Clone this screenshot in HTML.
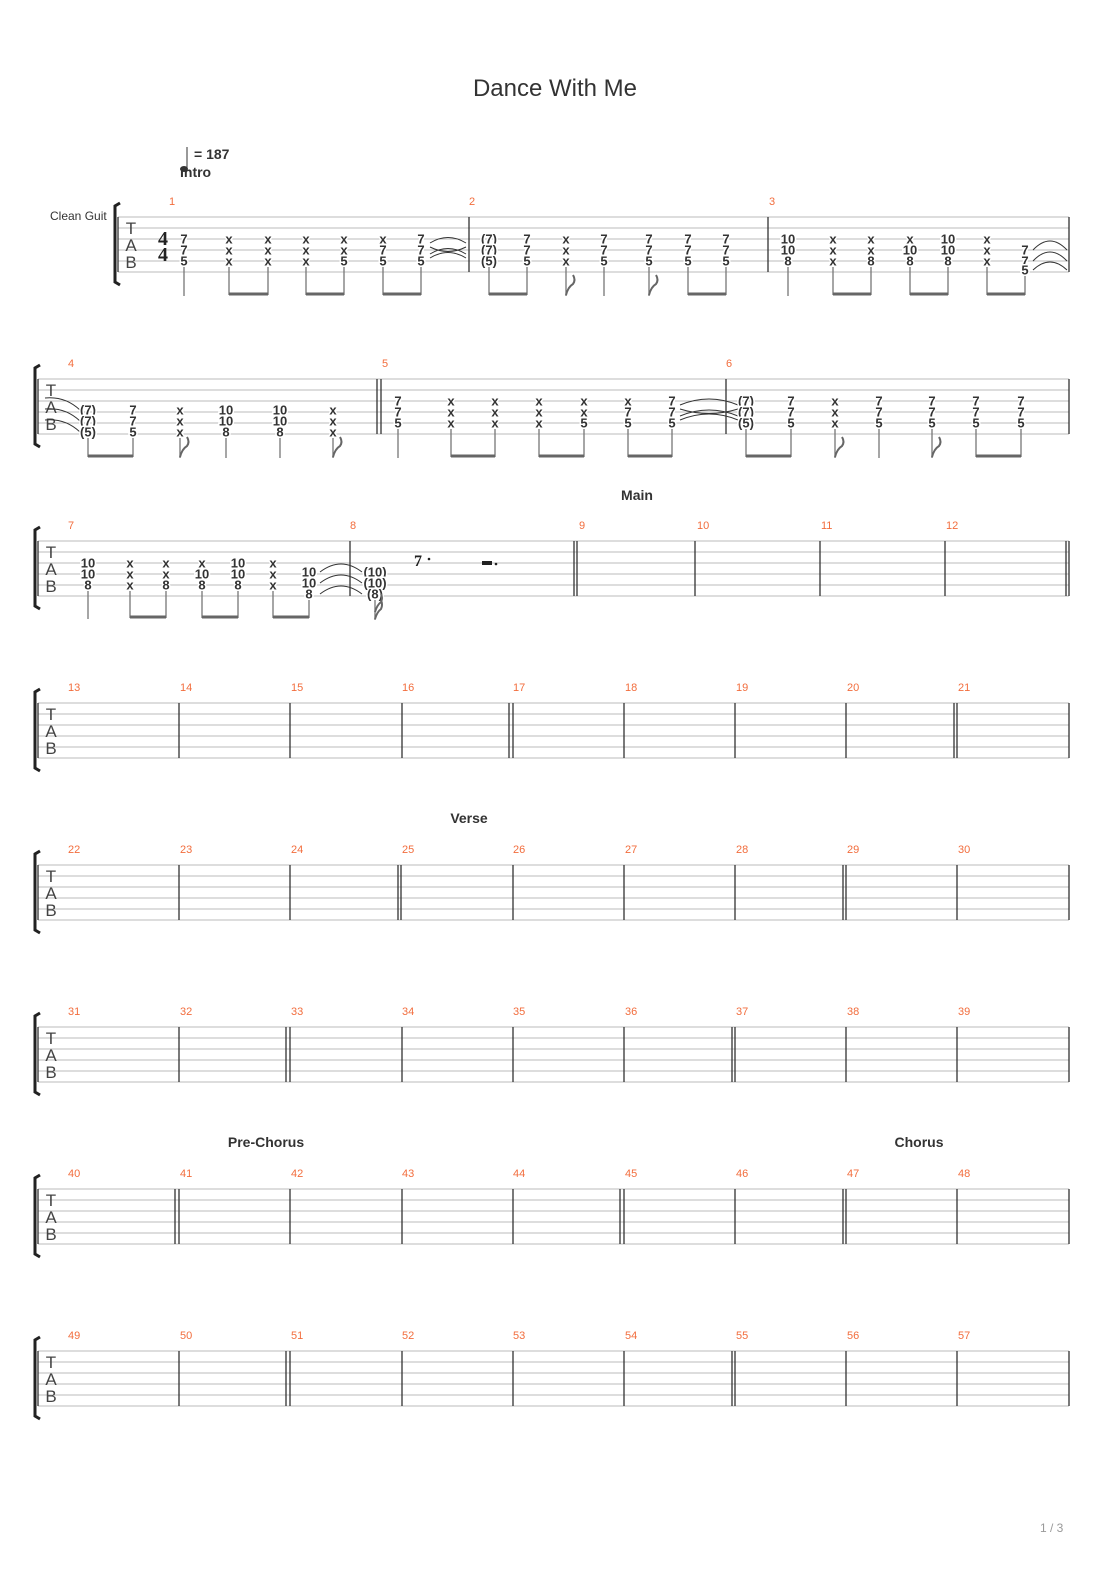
<!DOCTYPE html>
<html><head><meta charset="utf-8"><style>
html,body{margin:0;padding:0;background:#fff;}
svg{display:block}
.n{font:bold 13px "Liberation Sans",sans-serif;text-anchor:middle;dominant-baseline:central;paint-order:stroke;stroke:#fff;stroke-width:3px;fill:#333}
.m{font:11px "Liberation Sans",sans-serif;fill:#f26d3d}
.tab{font:17px "Liberation Sans",sans-serif;fill:#444;text-anchor:middle}
.lb{font:bold 14px "Liberation Sans",sans-serif;fill:#333;text-anchor:middle}
.st line{stroke:#bbb;stroke-width:1}
.bl{stroke:#333;stroke-width:1.3}
.stem{stroke:#777;stroke-width:1.3}
.beam{stroke:#666;stroke-width:3}
.tie{fill:none;stroke:#333;stroke-width:1}
.flag{fill:none;stroke:#666;stroke-width:2}
</style></head><body>
<svg width="1110" height="1570" viewBox="0 0 1110 1570" xmlns="http://www.w3.org/2000/svg">
<text x="555" y="96" text-anchor="middle" style="font:24px 'Liberation Sans',sans-serif;fill:#333">Dance With Me</text>
<line x1="187" y1="147" x2="187" y2="170" stroke="#333" stroke-width="1"/>
<ellipse cx="184" cy="169" rx="4" ry="3" fill="#333"/>
<text x="194" y="159" style="font:bold 14px 'Liberation Sans',sans-serif;fill:#333">= 187</text>
<text x="180" y="177" style="font:bold 14px 'Liberation Sans',sans-serif;fill:#333">Intro</text>
<text x="50" y="220" style="font:12px 'Liberation Sans',sans-serif;fill:#333">Clean Guit</text>
<text x="1040" y="1532" style="font:12px 'Liberation Sans',sans-serif;fill:#999">1 / 3</text>

<!-- System 1 -->
<g class="st"><line x1="118" y1="217" x2="1069" y2="217"/><line x1="118" y1="228" x2="1069" y2="228"/><line x1="118" y1="239" x2="1069" y2="239"/><line x1="118" y1="250" x2="1069" y2="250"/><line x1="118" y1="261" x2="1069" y2="261"/><line x1="118" y1="272" x2="1069" y2="272"/></g>
<path d="M120 203 L115 206 L115 282 L120 285" fill="none" stroke="#222" stroke-width="3"/>
<line class="bl" x1="118" y1="217" x2="118" y2="272"/><line class="bl" x1="469" y1="217" x2="469" y2="272"/><line class="bl" x1="768" y1="217" x2="768" y2="272"/><line class="bl" x1="1069" y1="217" x2="1069" y2="272"/>
<text class="tab" x="131" y="234">T</text><text class="tab" x="131" y="251">A</text><text class="tab" x="131" y="268">B</text>
<text x="163" y="245" text-anchor="middle" style="font:bold 20px 'Liberation Serif',serif;fill:#222">4</text>
<text x="163" y="261" text-anchor="middle" style="font:bold 20px 'Liberation Serif',serif;fill:#222">4</text>
<text class="m" x="169" y="205">1</text><text class="m" x="469" y="205">2</text><text class="m" x="769" y="205">3</text>
<g>
<text class="n" x="184" y="239">7</text><text class="n" x="184" y="250">7</text><text class="n" x="184" y="261">5</text>
<text class="n" x="229" y="239">x</text><text class="n" x="229" y="250">x</text><text class="n" x="229" y="261">x</text>
<text class="n" x="268" y="239">x</text><text class="n" x="268" y="250">x</text><text class="n" x="268" y="261">x</text>
<text class="n" x="306" y="239">x</text><text class="n" x="306" y="250">x</text><text class="n" x="306" y="261">x</text>
<text class="n" x="344" y="239">x</text><text class="n" x="344" y="250">x</text><text class="n" x="344" y="261">5</text>
<text class="n" x="383" y="239">x</text><text class="n" x="383" y="250">7</text><text class="n" x="383" y="261">5</text>
<text class="n" x="421" y="239">7</text><text class="n" x="421" y="250">7</text><text class="n" x="421" y="261">5</text>
<path class="tie" d="M430 243 Q448 232 466 243 M430 254 Q448 243 466 254 M430 258 Q448 247 466 258 M430 247 Q448 256 466 247"/>
<text class="n" x="489" y="239">(7)</text><text class="n" x="489" y="250">(7)</text><text class="n" x="489" y="261">(5)</text>
<text class="n" x="527" y="239">7</text><text class="n" x="527" y="250">7</text><text class="n" x="527" y="261">5</text>
<text class="n" x="566" y="239">x</text><text class="n" x="566" y="250">x</text><text class="n" x="566" y="261">x</text>
<text class="n" x="604" y="239">7</text><text class="n" x="604" y="250">7</text><text class="n" x="604" y="261">5</text>
<text class="n" x="649" y="239">7</text><text class="n" x="649" y="250">7</text><text class="n" x="649" y="261">5</text>
<text class="n" x="688" y="239">7</text><text class="n" x="688" y="250">7</text><text class="n" x="688" y="261">5</text>
<text class="n" x="726" y="239">7</text><text class="n" x="726" y="250">7</text><text class="n" x="726" y="261">5</text>
<text class="n" x="788" y="239">10</text><text class="n" x="788" y="250">10</text><text class="n" x="788" y="261">8</text>
<text class="n" x="833" y="239">x</text><text class="n" x="833" y="250">x</text><text class="n" x="833" y="261">x</text>
<text class="n" x="871" y="239">x</text><text class="n" x="871" y="250">x</text><text class="n" x="871" y="261">8</text>
<text class="n" x="910" y="239">x</text><text class="n" x="910" y="250">10</text><text class="n" x="910" y="261">8</text>
<text class="n" x="948" y="239">10</text><text class="n" x="948" y="250">10</text><text class="n" x="948" y="261">8</text>
<text class="n" x="987" y="239">x</text><text class="n" x="987" y="250">x</text><text class="n" x="987" y="261">x</text>
<text class="n" x="1025" y="250">7</text><text class="n" x="1025" y="261">7</text><text class="n" x="1025" y="270">5</text>
<path class="tie" d="M1033 250 Q1050 232 1067 250 M1033 261 Q1050 243 1067 261 M1033 270 Q1050 254 1067 270"/>
</g>
<g>
<line class="stem" x1="184" y1="267" x2="184" y2="296"/>
<line class="stem" x1="229" y1="267" x2="229" y2="295"/><line class="stem" x1="268" y1="267" x2="268" y2="295"/><line class="beam" x1="229" y1="294" x2="268" y2="294"/>
<line class="stem" x1="306" y1="267" x2="306" y2="295"/><line class="stem" x1="344" y1="267" x2="344" y2="295"/><line class="beam" x1="306" y1="294" x2="344" y2="294"/>
<line class="stem" x1="383" y1="267" x2="383" y2="295"/><line class="stem" x1="421" y1="267" x2="421" y2="295"/><line class="beam" x1="383" y1="294" x2="421" y2="294"/>
<line class="stem" x1="489" y1="267" x2="489" y2="295"/><line class="stem" x1="527" y1="267" x2="527" y2="295"/><line class="beam" x1="489" y1="294" x2="527" y2="294"/>
<line class="stem" x1="566" y1="267" x2="566" y2="296"/><path class="flag" d="M566 295 Q568 287 573 284 Q576 280 573 275"/>
<line class="stem" x1="604" y1="267" x2="604" y2="296"/>
<line class="stem" x1="649" y1="267" x2="649" y2="296"/><path class="flag" d="M649 295 Q651 287 656 284 Q659 280 656 275"/>
<line class="stem" x1="688" y1="267" x2="688" y2="295"/><line class="stem" x1="726" y1="267" x2="726" y2="295"/><line class="beam" x1="688" y1="294" x2="726" y2="294"/>
<line class="stem" x1="788" y1="267" x2="788" y2="296"/>
<line class="stem" x1="833" y1="267" x2="833" y2="295"/><line class="stem" x1="871" y1="267" x2="871" y2="295"/><line class="beam" x1="833" y1="294" x2="871" y2="294"/>
<line class="stem" x1="910" y1="267" x2="910" y2="295"/><line class="stem" x1="948" y1="267" x2="948" y2="295"/><line class="beam" x1="910" y1="294" x2="948" y2="294"/>
<line class="stem" x1="987" y1="267" x2="987" y2="295"/><line class="stem" x1="1025" y1="276" x2="1025" y2="295"/><line class="beam" x1="987" y1="294" x2="1025" y2="294"/>
</g>

<!-- System 2 -->
<g class="st"><line x1="38" y1="379" x2="1069" y2="379"/><line x1="38" y1="390" x2="1069" y2="390"/><line x1="38" y1="401" x2="1069" y2="401"/><line x1="38" y1="412" x2="1069" y2="412"/><line x1="38" y1="423" x2="1069" y2="423"/><line x1="38" y1="434" x2="1069" y2="434"/></g>
<path d="M40 365 L35 368 L35 444 L40 447" fill="none" stroke="#222" stroke-width="3"/>
<line class="bl" x1="38" y1="379" x2="38" y2="434"/><line class="bl" x1="377" y1="379" x2="377" y2="434"/><line class="bl" x1="381" y1="379" x2="381" y2="434"/><line class="bl" x1="726" y1="379" x2="726" y2="434"/><line class="bl" x1="1069" y1="379" x2="1069" y2="434"/>
<text class="tab" x="51" y="396">T</text><text class="tab" x="51" y="413">A</text><text class="tab" x="51" y="430">B</text>
<text class="m" x="68" y="367">4</text><text class="m" x="382" y="367">5</text><text class="m" x="726" y="367">6</text>
<path class="tie" d="M45 398 Q65 396 80 410 M45 409 Q65 407 80 421 M45 420 Q65 418 80 432"/>
<text class="n" x="88" y="410">(7)</text><text class="n" x="88" y="421">(7)</text><text class="n" x="88" y="432">(5)</text>
<text class="n" x="133" y="410">7</text><text class="n" x="133" y="421">7</text><text class="n" x="133" y="432">5</text>
<text class="n" x="180" y="410">x</text><text class="n" x="180" y="421">x</text><text class="n" x="180" y="432">x</text>
<text class="n" x="226" y="410">10</text><text class="n" x="226" y="421">10</text><text class="n" x="226" y="432">8</text>
<text class="n" x="280" y="410">10</text><text class="n" x="280" y="421">10</text><text class="n" x="280" y="432">8</text>
<text class="n" x="333" y="410">x</text><text class="n" x="333" y="421">x</text><text class="n" x="333" y="432">x</text>
<text class="n" x="398" y="401">7</text><text class="n" x="398" y="412">7</text><text class="n" x="398" y="423">5</text>
<text class="n" x="451" y="401">x</text><text class="n" x="451" y="412">x</text><text class="n" x="451" y="423">x</text>
<text class="n" x="495" y="401">x</text><text class="n" x="495" y="412">x</text><text class="n" x="495" y="423">x</text>
<text class="n" x="539" y="401">x</text><text class="n" x="539" y="412">x</text><text class="n" x="539" y="423">x</text>
<text class="n" x="584" y="401">x</text><text class="n" x="584" y="412">x</text><text class="n" x="584" y="423">5</text>
<text class="n" x="628" y="401">x</text><text class="n" x="628" y="412">7</text><text class="n" x="628" y="423">5</text>
<text class="n" x="672" y="401">7</text><text class="n" x="672" y="412">7</text><text class="n" x="672" y="423">5</text>
<path class="tie" d="M680 405 Q709 393 738 405 M680 416 Q709 404 738 416 M680 420 Q709 408 738 420 M680 409 Q709 418 738 409"/>
<text class="n" x="746" y="401">(7)</text><text class="n" x="746" y="412">(7)</text><text class="n" x="746" y="423">(5)</text>
<text class="n" x="791" y="401">7</text><text class="n" x="791" y="412">7</text><text class="n" x="791" y="423">5</text>
<text class="n" x="835" y="401">x</text><text class="n" x="835" y="412">x</text><text class="n" x="835" y="423">x</text>
<text class="n" x="879" y="401">7</text><text class="n" x="879" y="412">7</text><text class="n" x="879" y="423">5</text>
<text class="n" x="932" y="401">7</text><text class="n" x="932" y="412">7</text><text class="n" x="932" y="423">5</text>
<text class="n" x="976" y="401">7</text><text class="n" x="976" y="412">7</text><text class="n" x="976" y="423">5</text>
<text class="n" x="1021" y="401">7</text><text class="n" x="1021" y="412">7</text><text class="n" x="1021" y="423">5</text>
<g>
<line class="stem" x1="88" y1="438" x2="88" y2="457"/><line class="stem" x1="133" y1="438" x2="133" y2="457"/><line class="beam" x1="88" y1="456" x2="133" y2="456"/>
<line class="stem" x1="180" y1="438" x2="180" y2="458"/><path class="flag" d="M180 457 Q182 449 187 446 Q190 442 187 437"/>
<line class="stem" x1="226" y1="438" x2="226" y2="458"/>
<line class="stem" x1="280" y1="438" x2="280" y2="458"/>
<line class="stem" x1="333" y1="438" x2="333" y2="458"/><path class="flag" d="M333 457 Q335 449 340 446 Q343 442 340 437"/>
<line class="stem" x1="398" y1="429" x2="398" y2="458"/>
<line class="stem" x1="451" y1="429" x2="451" y2="457"/><line class="stem" x1="495" y1="429" x2="495" y2="457"/><line class="beam" x1="451" y1="456" x2="495" y2="456"/>
<line class="stem" x1="539" y1="429" x2="539" y2="457"/><line class="stem" x1="584" y1="429" x2="584" y2="457"/><line class="beam" x1="539" y1="456" x2="584" y2="456"/>
<line class="stem" x1="628" y1="429" x2="628" y2="457"/><line class="stem" x1="672" y1="429" x2="672" y2="457"/><line class="beam" x1="628" y1="456" x2="672" y2="456"/>
<line class="stem" x1="746" y1="429" x2="746" y2="457"/><line class="stem" x1="791" y1="429" x2="791" y2="457"/><line class="beam" x1="746" y1="456" x2="791" y2="456"/>
<line class="stem" x1="835" y1="429" x2="835" y2="458"/><path class="flag" d="M835 457 Q837 449 842 446 Q845 442 842 437"/>
<line class="stem" x1="879" y1="429" x2="879" y2="458"/>
<line class="stem" x1="932" y1="429" x2="932" y2="458"/><path class="flag" d="M932 457 Q934 449 939 446 Q942 442 939 437"/>
<line class="stem" x1="976" y1="429" x2="976" y2="457"/><line class="stem" x1="1021" y1="429" x2="1021" y2="457"/><line class="beam" x1="976" y1="456" x2="1021" y2="456"/>
</g>

<!-- System 3 -->
<text class="lb" x="637" y="500">Main</text>
<g class="st"><line x1="38" y1="541" x2="1069" y2="541"/><line x1="38" y1="552" x2="1069" y2="552"/><line x1="38" y1="563" x2="1069" y2="563"/><line x1="38" y1="574" x2="1069" y2="574"/><line x1="38" y1="585" x2="1069" y2="585"/><line x1="38" y1="596" x2="1069" y2="596"/></g>
<path d="M40 527 L35 530 L35 606 L40 609" fill="none" stroke="#222" stroke-width="3"/>
<line class="bl" x1="38" y1="541" x2="38" y2="596"/><line class="bl" x1="350" y1="541" x2="350" y2="596"/><line class="bl" x1="574" y1="541" x2="574" y2="596"/><line class="bl" x1="577" y1="541" x2="577" y2="596"/><line class="bl" x1="695" y1="541" x2="695" y2="596"/><line class="bl" x1="820" y1="541" x2="820" y2="596"/><line class="bl" x1="945" y1="541" x2="945" y2="596"/><line class="bl" x1="1066" y1="541" x2="1066" y2="596"/><line class="bl" x1="1069" y1="541" x2="1069" y2="596"/>
<text class="tab" x="51" y="558">T</text><text class="tab" x="51" y="575">A</text><text class="tab" x="51" y="592">B</text>
<text class="m" x="68" y="529">7</text><text class="m" x="350" y="529">8</text><text class="m" x="579" y="529">9</text><text class="m" x="697" y="529">10</text><text class="m" x="821" y="529">11</text><text class="m" x="946" y="529">12</text>
<text class="n" x="88" y="563">10</text><text class="n" x="88" y="574">10</text><text class="n" x="88" y="585">8</text>
<text class="n" x="130" y="563">x</text><text class="n" x="130" y="574">x</text><text class="n" x="130" y="585">x</text>
<text class="n" x="166" y="563">x</text><text class="n" x="166" y="574">x</text><text class="n" x="166" y="585">8</text>
<text class="n" x="202" y="563">x</text><text class="n" x="202" y="574">10</text><text class="n" x="202" y="585">8</text>
<text class="n" x="238" y="563">10</text><text class="n" x="238" y="574">10</text><text class="n" x="238" y="585">8</text>
<text class="n" x="273" y="563">x</text><text class="n" x="273" y="574">x</text><text class="n" x="273" y="585">x</text>
<text class="n" x="309" y="572">10</text><text class="n" x="309" y="583">10</text><text class="n" x="309" y="594">8</text>
<path class="tie" d="M320 572 Q341 556 362 572 M320 583 Q341 567 362 583 M320 594 Q341 578 362 594"/>
<text class="n" x="375" y="572">(10)</text><text class="n" x="375" y="583">(10)</text><text class="n" x="375" y="594">(8)</text>
<text x="414" y="566" style="font:bold 16px 'Liberation Serif',serif;fill:#222">7</text><circle cx="429" cy="559" r="1.3" fill="#222"/>
<rect x="482" y="561" width="10" height="4" fill="#222"/><circle cx="496" cy="564" r="1.3" fill="#222"/>
<line class="stem" x1="88" y1="591" x2="88" y2="619"/>
<line class="stem" x1="130" y1="591" x2="130" y2="618"/><line class="stem" x1="166" y1="591" x2="166" y2="618"/><line class="beam" x1="130" y1="617" x2="166" y2="617"/>
<line class="stem" x1="202" y1="591" x2="202" y2="618"/><line class="stem" x1="238" y1="591" x2="238" y2="618"/><line class="beam" x1="202" y1="617" x2="238" y2="617"/>
<line class="stem" x1="273" y1="591" x2="273" y2="618"/><line class="stem" x1="309" y1="600" x2="309" y2="618"/><line class="beam" x1="273" y1="617" x2="309" y2="617"/>
<line class="stem" x1="375" y1="600" x2="375" y2="620"/><path class="flag" d="M375 619 Q377 612 381 609 Q383 605 381 600 M375 612 Q377 605 381 602 Q383 598 381 594"/>

<!-- System 4 -->
<g class="st"><line x1="38" y1="703" x2="1069" y2="703"/><line x1="38" y1="714" x2="1069" y2="714"/><line x1="38" y1="725" x2="1069" y2="725"/><line x1="38" y1="736" x2="1069" y2="736"/><line x1="38" y1="747" x2="1069" y2="747"/><line x1="38" y1="758" x2="1069" y2="758"/></g>
<path d="M40 689 L35 692 L35 768 L40 771" fill="none" stroke="#222" stroke-width="3"/>
<text class="tab" x="51" y="720">T</text><text class="tab" x="51" y="737">A</text><text class="tab" x="51" y="754">B</text>
<g class="bl"><line x1="38" y1="703" x2="38" y2="758"/><line x1="179" y1="703" x2="179" y2="758"/><line x1="290" y1="703" x2="290" y2="758"/><line x1="402" y1="703" x2="402" y2="758"/><line x1="509" y1="703" x2="509" y2="758"/><line x1="513" y1="703" x2="513" y2="758"/><line x1="624" y1="703" x2="624" y2="758"/><line x1="735" y1="703" x2="735" y2="758"/><line x1="846" y1="703" x2="846" y2="758"/><line x1="954" y1="703" x2="954" y2="758"/><line x1="957" y1="703" x2="957" y2="758"/><line x1="1069" y1="703" x2="1069" y2="758"/></g>
<text class="m" x="68" y="691">13</text><text class="m" x="180" y="691">14</text><text class="m" x="291" y="691">15</text><text class="m" x="402" y="691">16</text><text class="m" x="513" y="691">17</text><text class="m" x="625" y="691">18</text><text class="m" x="736" y="691">19</text><text class="m" x="847" y="691">20</text><text class="m" x="958" y="691">21</text>

<!-- System 5 -->
<text class="lb" x="469" y="823">Verse</text>
<g class="st"><line x1="38" y1="865" x2="1069" y2="865"/><line x1="38" y1="876" x2="1069" y2="876"/><line x1="38" y1="887" x2="1069" y2="887"/><line x1="38" y1="898" x2="1069" y2="898"/><line x1="38" y1="909" x2="1069" y2="909"/><line x1="38" y1="920" x2="1069" y2="920"/></g>
<path d="M40 851 L35 854 L35 930 L40 933" fill="none" stroke="#222" stroke-width="3"/>
<text class="tab" x="51" y="882">T</text><text class="tab" x="51" y="899">A</text><text class="tab" x="51" y="916">B</text>
<g class="bl"><line x1="38" y1="865" x2="38" y2="920"/><line x1="179" y1="865" x2="179" y2="920"/><line x1="290" y1="865" x2="290" y2="920"/><line x1="398" y1="865" x2="398" y2="920"/><line x1="401" y1="865" x2="401" y2="920"/><line x1="513" y1="865" x2="513" y2="920"/><line x1="624" y1="865" x2="624" y2="920"/><line x1="735" y1="865" x2="735" y2="920"/><line x1="843" y1="865" x2="843" y2="920"/><line x1="846" y1="865" x2="846" y2="920"/><line x1="957" y1="865" x2="957" y2="920"/><line x1="1069" y1="865" x2="1069" y2="920"/></g>
<text class="m" x="68" y="853">22</text><text class="m" x="180" y="853">23</text><text class="m" x="291" y="853">24</text><text class="m" x="402" y="853">25</text><text class="m" x="513" y="853">26</text><text class="m" x="625" y="853">27</text><text class="m" x="736" y="853">28</text><text class="m" x="847" y="853">29</text><text class="m" x="958" y="853">30</text>

<!-- System 6 -->
<g class="st"><line x1="38" y1="1027" x2="1069" y2="1027"/><line x1="38" y1="1038" x2="1069" y2="1038"/><line x1="38" y1="1049" x2="1069" y2="1049"/><line x1="38" y1="1060" x2="1069" y2="1060"/><line x1="38" y1="1071" x2="1069" y2="1071"/><line x1="38" y1="1082" x2="1069" y2="1082"/></g>
<path d="M40 1013 L35 1016 L35 1092 L40 1095" fill="none" stroke="#222" stroke-width="3"/>
<text class="tab" x="51" y="1044">T</text><text class="tab" x="51" y="1061">A</text><text class="tab" x="51" y="1078">B</text>
<g class="bl"><line x1="38" y1="1027" x2="38" y2="1082"/><line x1="179" y1="1027" x2="179" y2="1082"/><line x1="286" y1="1027" x2="286" y2="1082"/><line x1="290" y1="1027" x2="290" y2="1082"/><line x1="402" y1="1027" x2="402" y2="1082"/><line x1="513" y1="1027" x2="513" y2="1082"/><line x1="624" y1="1027" x2="624" y2="1082"/><line x1="732" y1="1027" x2="732" y2="1082"/><line x1="735" y1="1027" x2="735" y2="1082"/><line x1="846" y1="1027" x2="846" y2="1082"/><line x1="957" y1="1027" x2="957" y2="1082"/><line x1="1069" y1="1027" x2="1069" y2="1082"/></g>
<text class="m" x="68" y="1015">31</text><text class="m" x="180" y="1015">32</text><text class="m" x="291" y="1015">33</text><text class="m" x="402" y="1015">34</text><text class="m" x="513" y="1015">35</text><text class="m" x="625" y="1015">36</text><text class="m" x="736" y="1015">37</text><text class="m" x="847" y="1015">38</text><text class="m" x="958" y="1015">39</text>

<!-- System 7 -->
<text class="lb" x="266" y="1147">Pre-Chorus</text><text class="lb" x="919" y="1147">Chorus</text>
<g class="st"><line x1="38" y1="1189" x2="1069" y2="1189"/><line x1="38" y1="1200" x2="1069" y2="1200"/><line x1="38" y1="1211" x2="1069" y2="1211"/><line x1="38" y1="1222" x2="1069" y2="1222"/><line x1="38" y1="1233" x2="1069" y2="1233"/><line x1="38" y1="1244" x2="1069" y2="1244"/></g>
<path d="M40 1175 L35 1178 L35 1254 L40 1257" fill="none" stroke="#222" stroke-width="3"/>
<text class="tab" x="51" y="1206">T</text><text class="tab" x="51" y="1223">A</text><text class="tab" x="51" y="1240">B</text>
<g class="bl"><line x1="38" y1="1189" x2="38" y2="1244"/><line x1="175" y1="1189" x2="175" y2="1244"/><line x1="179" y1="1189" x2="179" y2="1244"/><line x1="290" y1="1189" x2="290" y2="1244"/><line x1="402" y1="1189" x2="402" y2="1244"/><line x1="513" y1="1189" x2="513" y2="1244"/><line x1="620" y1="1189" x2="620" y2="1244"/><line x1="624" y1="1189" x2="624" y2="1244"/><line x1="735" y1="1189" x2="735" y2="1244"/><line x1="843" y1="1189" x2="843" y2="1244"/><line x1="846" y1="1189" x2="846" y2="1244"/><line x1="957" y1="1189" x2="957" y2="1244"/><line x1="1069" y1="1189" x2="1069" y2="1244"/></g>
<text class="m" x="68" y="1177">40</text><text class="m" x="180" y="1177">41</text><text class="m" x="291" y="1177">42</text><text class="m" x="402" y="1177">43</text><text class="m" x="513" y="1177">44</text><text class="m" x="625" y="1177">45</text><text class="m" x="736" y="1177">46</text><text class="m" x="847" y="1177">47</text><text class="m" x="958" y="1177">48</text>

<!-- System 8 -->
<g class="st"><line x1="38" y1="1351" x2="1069" y2="1351"/><line x1="38" y1="1362" x2="1069" y2="1362"/><line x1="38" y1="1373" x2="1069" y2="1373"/><line x1="38" y1="1384" x2="1069" y2="1384"/><line x1="38" y1="1395" x2="1069" y2="1395"/><line x1="38" y1="1406" x2="1069" y2="1406"/></g>
<path d="M40 1337 L35 1340 L35 1416 L40 1419" fill="none" stroke="#222" stroke-width="3"/>
<text class="tab" x="51" y="1368">T</text><text class="tab" x="51" y="1385">A</text><text class="tab" x="51" y="1402">B</text>
<g class="bl"><line x1="38" y1="1351" x2="38" y2="1406"/><line x1="179" y1="1351" x2="179" y2="1406"/><line x1="286" y1="1351" x2="286" y2="1406"/><line x1="290" y1="1351" x2="290" y2="1406"/><line x1="402" y1="1351" x2="402" y2="1406"/><line x1="513" y1="1351" x2="513" y2="1406"/><line x1="624" y1="1351" x2="624" y2="1406"/><line x1="732" y1="1351" x2="732" y2="1406"/><line x1="735" y1="1351" x2="735" y2="1406"/><line x1="846" y1="1351" x2="846" y2="1406"/><line x1="957" y1="1351" x2="957" y2="1406"/><line x1="1069" y1="1351" x2="1069" y2="1406"/></g>
<text class="m" x="68" y="1339">49</text><text class="m" x="180" y="1339">50</text><text class="m" x="291" y="1339">51</text><text class="m" x="402" y="1339">52</text><text class="m" x="513" y="1339">53</text><text class="m" x="625" y="1339">54</text><text class="m" x="736" y="1339">55</text><text class="m" x="847" y="1339">56</text><text class="m" x="958" y="1339">57</text>
</svg>
</body></html>
